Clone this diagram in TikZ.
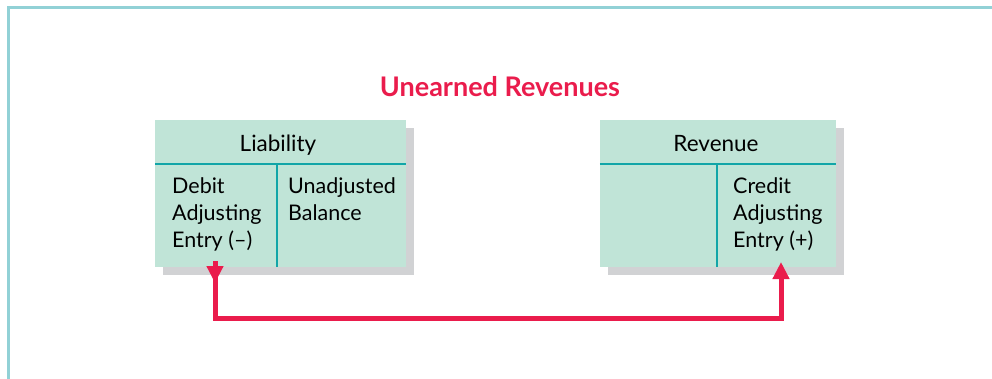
\documentclass[tikz,border=0pt]{standalone}
\usepackage{fontspec}
\setmainfont{Lato}
\usepackage{tikz}
\usetikzlibrary{arrows.meta,positioning,calc,shadows}
\usepackage{xcolor}
\definecolor{acTeal}{HTML}{12A5A8}
\definecolor{acMint}{HTML}{C0E4D7}
\definecolor{acShade}{HTML}{D1D2D4}
\definecolor{acFrame}{HTML}{92D1D6}
\definecolor{acRed}{HTML}{EA1C4C}
\tikzset{
  frame/.style={draw=acFrame, line width=3pt},
  taccount/.style={rectangle, fill=acMint, minimum width=251pt, minimum height=147pt, inner sep=0pt,
    drop shadow={shadow xshift=8pt, shadow yshift=-8pt, fill=acShade, opacity=1}},
  rule/.style={draw=acTeal, line width=2pt},
  head/.style={font=\fontsize{22.5}{26}\selectfont, inner sep=0pt, anchor=base},
  entry/.style={font=\fontsize{21.5}{27}\selectfont, align=left, inner sep=0pt, anchor=north west},
  title/.style={font=\fontsize{27}{30}\selectfont\bfseries, text=acRed, inner sep=0pt, anchor=base},
  flow/.style={draw=acRed, line width=5pt},
  flowtip/.style={-{Triangle[length=17pt,width=16pt]}, draw=acRed, line width=5pt}
}
\begin{document}
\begin{tikzpicture}[x=1pt,y=-1pt]
  \useasboundingbox (0,0) rectangle (992,379);
  \draw[frame] (992,7.5) -- (8.5,7.5) -- (8.5,379);
  \node[title] (ttl) at (500,97) {Unearned Revenues};
  % liability account
  \node[taccount] (liab) at (280.5,193.5) {};
  \draw[rule] (liab.west |- 0,164) -- (liab.east |- 0,164);
  \draw[rule] (277,164) -- (277,267);
  \node[head] (liabHead) at (278,152) {Liability};
  \node[entry] (debit) at (172,177) {Debit\\Adjusting\\Entry (--)};
  \node[entry] (unadj) at (288,177) {Unadjusted\\Balance};
  % revenue account
  \node[taccount, minimum width=236pt] (rev) at (718,193.5) {};
  \draw[rule] (rev.west |- 0,164) -- (rev.east |- 0,164);
  \draw[rule] (717,164) -- (717,267);
  \node[head] (revHead) at (716,152) {Revenue};
  \node[entry] (credit) at (733,177) {Credit\\Adjusting\\Entry (+)};
  % adjusting entry flow
  \coordinate (dstart) at (215,261);
  \coordinate (cend) at (781,262);
  \coordinate (low) at (500,318);
  \draw[flow] (dstart) -- (dstart |- low) -| ($(cend)+(0,16)$);
  \draw[flowtip] (dstart) -- ++(0,22);
  \draw[flowtip] ($(cend)+(0,22)$) -- (cend);
\end{tikzpicture}
\end{document}
